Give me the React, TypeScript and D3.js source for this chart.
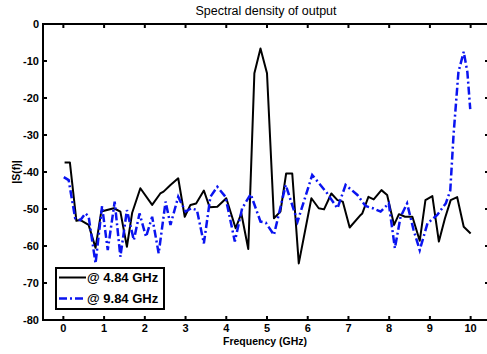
import React from "react";
import * as d3 from "d3";

const title = "Spectral density of output";
const xLabel = "Frequency (GHz)";
const yLabel = "|S(f)|";
const xTicks = [0, 1, 2, 3, 4, 5, 6, 7, 8, 9, 10];
const yTicks = [0, -10, -20, -30, -40, -50, -60, -70, -80];
const seriesNames = ["@ 4.84 GHz", "@ 9.84 GHz"];

const freqA = [0.03, 0.16, 0.32, 0.42, 0.62, 0.79, 0.93, 1.24, 1.4, 1.56, 1.69, 1.89, 2.18, 2.38, 2.46, 2.63, 2.82, 2.98, 3.12, 3.26, 3.45, 3.59, 3.78, 4.0, 4.23, 4.37, 4.54, 4.69, 4.84, 5.0, 5.17, 5.33, 5.47, 5.62, 5.78, 6.09, 6.27, 6.4, 6.58, 6.73, 6.86, 7.03, 7.3, 7.34, 7.49, 7.62, 7.81, 7.95, 8.12, 8.24, 8.39, 8.57, 8.75, 8.89, 9.06, 9.22, 9.37, 9.51, 9.67, 9.83, 10.0];
const psdA = [-37.4, -37.4, -53.2, -53, -54.3, -60.5, -50.7, -49.8, -50.7, -60.2, -51, -44.4, -48.9, -45.8, -45.3, -43.5, -41.7, -52.1, -48.9, -48.5, -45, -49.5, -49.4, -47.1, -55.2, -51.2, -60.8, -13.3, -6.6, -13.3, -52.5, -50.7, -40.4, -40.4, -64.7, -47.1, -49.8, -50.1, -45.8, -47.6, -48, -55, -51.6, -51.2, -46.7, -47.4, -44.9, -46.2, -54.3, -51.4, -52.1, -52.1, -58.6, -47.6, -46.5, -58.8, -52.5, -47.6, -46.8, -54.8, -56.6];

const freqB = [0.01, 0.13, 0.29, 0.42, 0.54, 0.62, 0.79, 0.95, 1.09, 1.26, 1.4, 1.56, 1.73, 1.87, 2.03, 2.18, 2.34, 2.51, 2.63, 2.82, 3.0, 3.14, 3.28, 3.45, 3.61, 3.78, 3.98, 4.21, 4.39, 4.6, 4.84, 4.97, 5.17, 5.46, 5.75, 6.11, 6.46, 6.73, 6.93, 7.22, 7.42, 7.6, 7.79, 7.99, 8.14, 8.28, 8.44, 8.6, 8.75, 8.94, 9.18, 9.39, 9.5, 9.58, 9.7, 9.83, 9.92, 9.99];
const psdB = [-41.4, -42.2, -52.5, -53, -51.2, -52, -64.7, -49.2, -61.1, -48, -62.9, -50.3, -58.4, -51.2, -57.5, -52.1, -62, -48, -54.3, -46.7, -50.7, -49.8, -50.3, -59.3, -46.7, -44, -46.7, -58.8, -49.8, -46, -53.4, -53.7, -57, -43.5, -53.4, -40.8, -45.5, -49.8, -43.5, -46.2, -49.2, -49.8, -50.7, -48.5, -60.6, -52.1, -48.5, -55.7, -61.1, -53.9, -51.6, -48.5, -45, -30, -13, -7.5, -13, -23];

const W = 487;
const H = 354;
const M = { left: 43, right: 491, top: 24, bottom: 320 };
const FONT = "Arial, 'Liberation Sans', sans-serif";

export default function App() {
  const x = d3.scaleLinear().domain([-0.5, 10.5]).range([M.left, M.right]);
  const y = d3.scaleLinear().domain([-80, 0]).range([M.bottom, M.top]);
  const line = d3
    .line<[number, number]>()
    .x((d) => x(d[0]))
    .y((d) => y(d[1]));
  const dataA: [number, number][] = freqA.map((f, i) => [f, psdA[i]]);
  const dataB: [number, number][] = freqB.map((f, i) => [f, psdB[i]]);
  const tickLen = 4;
  const blue = "#0a14f0";
  const dash = "8,3,2,3";

  return (
    <svg
      width={W}
      height={H}
      style={{ position: "absolute", left: 0, top: 0, background: "#fff" }}
      fontFamily={FONT}
    >
      <rect x={0} y={0} width={W} height={H} fill="#fff" />
      <defs>
        <clipPath id="plotclip">
          <rect x={M.left} y={M.top} width={M.right - M.left} height={M.bottom - M.top} />
        </clipPath>
      </defs>
      <text x={266} y={15} textAnchor="middle" fontSize={12.5} fill="#000">
        {title}
      </text>
      <g clipPath="url(#plotclip)">
        <path d={line(dataA) || ""} fill="none" stroke="#000" strokeWidth={2} strokeLinejoin="round" />
        <path
          d={line(dataB) || ""}
          fill="none"
          stroke={blue}
          strokeWidth={2.5}
          strokeDasharray={dash}
        />
      </g>
      {/* axes box */}
      <g stroke="#000" strokeWidth={2} fill="none">
        <line x1={M.left} x2={M.left} y1={M.top - 1} y2={M.bottom + 1} />
        <line x1={M.left} x2={M.right} y1={M.top} y2={M.top} />
        <line x1={M.left} x2={M.right} y1={M.bottom} y2={M.bottom} />
        <line x1={M.right} x2={M.right} y1={M.top} y2={M.bottom} />
        {xTicks.map((t) => (
          <g key={"xt" + t}>
            <line x1={x(t)} x2={x(t)} y1={M.bottom} y2={M.bottom - tickLen} />
            <line x1={x(t)} x2={x(t)} y1={M.top} y2={M.top + tickLen} />
          </g>
        ))}
        {yTicks.map((t) => (
          <g key={"yt" + t}>
            <line x1={M.left} x2={M.left + tickLen} y1={y(t)} y2={y(t)} />
            <line x1={M.right - 2} x2={M.right - 2 - tickLen} y1={y(t)} y2={y(t)} />
          </g>
        ))}
      </g>
      {xTicks.map((t) => (
        <text
          key={"xl" + t}
          x={x(t)}
          y={332}
          textAnchor="middle"
          fontSize={11}
          fontWeight="bold"
          fill="#000"
        >
          {t}
        </text>
      ))}
      {yTicks.map((t) => (
        <text
          key={"yl" + t}
          x={39}
          y={y(t) + 4}
          textAnchor="end"
          fontSize={11}
          fontWeight="bold"
          fill="#000"
        >
          {t}
        </text>
      ))}
      <text x={265} y={345} textAnchor="middle" fontSize={10.5} fontWeight="bold" fill="#000">
        {xLabel}
      </text>
      <text
        transform={`translate(20,172) rotate(-90)`}
        textAnchor="middle"
        fontSize={10.5}
        fontWeight="bold"
        fill="#000"
      >
        {yLabel}
      </text>
      {/* legend */}
      <g>
        <rect x={56} y={268} width={108} height={41} fill="#fff" stroke="#000" strokeWidth={2} />
        <line x1={59} x2={86} y1={277.5} y2={277.5} stroke="#000" strokeWidth={2} />
        <line x1={59} x2={86} y1={298.5} y2={298.5} stroke={blue} strokeWidth={2.5} strokeDasharray={dash} />
        <text x={87} y={282} fontSize={13} fontWeight="bold" fill="#000">
          {seriesNames[0]}
        </text>
        <text x={87} y={303} fontSize={13} fontWeight="bold" fill="#000">
          {seriesNames[1]}
        </text>
      </g>
    </svg>
  );
}
